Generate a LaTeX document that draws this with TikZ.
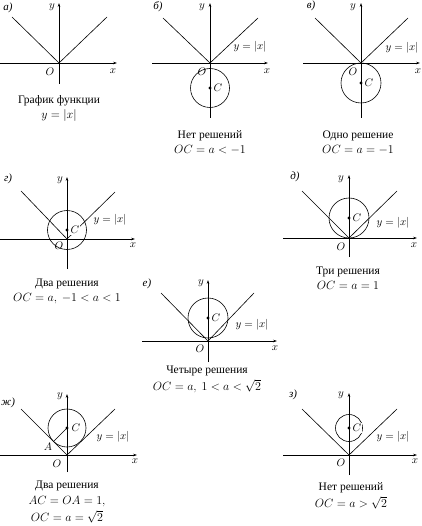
\documentclass[tikz,border=0pt]{standalone}
\usepackage{fontspec}
\setmainfont{Liberation Serif}
\usetikzlibrary{arrows.meta}

\tikzset{
  axis/.style={line width=0.6pt, -{Stealth[length=4pt,width=2.6pt]}},
  graph/.style={line width=0.6pt},
  lbl/.style={font=\fontsize{10.5}{10.5}\selectfont, inner sep=1pt},
  clbl/.style={lbl, fill=white},
  tag/.style={font=\itshape\fontsize{11}{11}\selectfont, inner sep=1pt},
  caption/.style={font=\fontsize{11.5}{15.5}\selectfont, align=center, inner sep=0pt},
}

\begin{document}
\begin{tikzpicture}[x=1pt, y=-1pt]
  \useasboundingbox (0,0) rectangle (421,526);

  % a) graph of y=|x|
  \begin{scope}[shift={(59,63)}]
    \coordinate (Oa) at (0,0);
    \coordinate (xa0) at (-59,0); \coordinate (xa1) at (58,0);
    \coordinate (ya0) at (0,21); \coordinate (ya1) at (0,-60);
    \coordinate (va0) at (-47,-46); \coordinate (va1) at (48,-46);
    \draw[axis] (xa0) -- (xa1);
    \draw[axis] (ya0) -- (ya1);
    \draw[graph] (va0) -- (Oa) -- (va1);
    \node[lbl] (ya) at (-7,-56) {$y$};
    \node[lbl] (xa) at (54,8) {$x$};
    \node[lbl] (oa) at (-9,9) {$O$};
    \node[tag] (ta) at (-51,-55) {а)};
  \end{scope}
  \node[caption] (capa) at (59,108.5) {График функции\\$y=|x|$};

  % b) no solutions
  \begin{scope}[shift={(210,63)}]
    \coordinate (Ob) at (0,0);
    \coordinate (Cb) at (0,25);
    \coordinate (xb0) at (-58,0); \coordinate (xb1) at (58,0);
    \coordinate (yb0) at (0,55); \coordinate (yb1) at (0,-60);
    \coordinate (vb0) at (-47,-45); \coordinate (vb1) at (48,-45);
    \draw[axis] (xb0) -- (xb1);
    \draw[axis] (yb0) -- (yb1);
    \draw[graph] (vb0) -- (Ob) -- (vb1);
    \draw[graph] (Cb) circle [radius=19.5];
    \fill (Cb) circle [radius=1.6];
    \node[lbl] (yb) at (-8,-56) {$y$};
    \node[lbl] (xb) at (57,8) {$x$};
    \node[lbl] (ob) at (-8,9) {$O$};
    \node[clbl] (cb) at (8,25) {$C$};
    \node[lbl] (fb) at (40,-16) {$y=|x|$};
    \node[tag] (tb) at (-52,-56) {б)};
  \end{scope}
  \node[caption] (capb) at (210,142.5) {Нет решений\\$OC=a<-1$};

  % c) one solution
  \begin{scope}[shift={(361,63)}]
    \coordinate (Oc) at (0,0);
    \coordinate (Cc) at (0,20);
    \coordinate (xc0) at (-58,0); \coordinate (xc1) at (59,0);
    \coordinate (yc0) at (0,55); \coordinate (yc1) at (0,-60);
    \coordinate (vc0) at (-46,-45); \coordinate (vc1) at (47,-45);
    \draw[axis] (xc0) -- (xc1);
    \draw[axis] (yc0) -- (yc1);
    \draw[graph] (vc0) -- (Oc) -- (vc1);
    \draw[graph] (Cc) circle [radius=20];
    \fill (Cc) circle [radius=1.6];
    \node[lbl] (yc) at (-8,-56) {$y$};
    \node[lbl] (xc) at (57,8) {$x$};
    \node[lbl] (oc) at (-8,9) {$O$};
    \node[clbl] (cc) at (8,20) {$C$};
    \node[lbl] (fc) at (41,-15) {$y=|x|$};
    \node[tag] (tc) at (-50,-57) {в)};
  \end{scope}
  \node[caption] (capc) at (358,142.5) {Одно решение\\$OC=a=-1$};

  % d) two solutions
  \begin{scope}[shift={(67,239)}]
    \coordinate (Od) at (0,0);
    \coordinate (Cd) at (0,-9);
    \coordinate (xd0) at (-67,0); \coordinate (xd1) at (68,0);
    \coordinate (yd0) at (0,30); \coordinate (yd1) at (0,-62);
    \coordinate (vd0) at (-46,-48); \coordinate (vd1) at (48,-47);
    \draw[axis] (xd0) -- (xd1);
    \draw[axis] (yd0) -- (yd1);
    \draw[graph] (vd0) -- (Od) -- (vd1);
    \draw[graph] (Cd) circle [radius=19.5];
    \fill (Cd) circle [radius=1.6];
    \node[lbl] (yd) at (-7,-59) {$y$};
    \node[lbl] (xd) at (66,6) {$x$};
    \node[lbl] (od) at (-8,7) {$O$};
    \node[clbl] (cd) at (8,-9) {$C$};
    \node[lbl] (fd) at (43,-19) {$y=|x|$};
    \node[tag] (td) at (-59,-60) {г)};
  \end{scope}
  \node[caption] (capd) at (67,291.5) {Два решения\\$OC=a,\ -1<a<1$};

  % e) three solutions
  \begin{scope}[shift={(349,238)}]
    \coordinate (Oe) at (0,0);
    \coordinate (Ce) at (0,-20);
    \coordinate (xe0) at (-66,0); \coordinate (xe1) at (68,0);
    \coordinate (ye0) at (0,19); \coordinate (ye1) at (0,-63);
    \coordinate (ve0) at (-47,-47); \coordinate (ve1) at (48,-47);
    \draw[axis] (xe0) -- (xe1);
    \draw[axis] (ye0) -- (ye1);
    \draw[graph] (ve0) -- (Oe) -- (ve1);
    \draw[graph] (Ce) circle [radius=20];
    \fill (Ce) circle [radius=1.6];
    \node[lbl] (ye) at (-8,-59) {$y$};
    \node[lbl] (xe) at (65,7) {$x$};
    \node[lbl] (oe) at (-8,9) {$O$};
    \node[clbl] (ce) at (8,-20) {$C$};
    \node[lbl] (fe) at (44,-15) {$y=|x|$};
    \node[tag] (te) at (-54,-61) {д)};
  \end{scope}
  \node[caption] (cape) at (348,278) {Три решения\\$OC=a=1$};

  % f) four solutions
  \begin{scope}[shift={(208,341)}]
    \coordinate (Of) at (0,0);
    \coordinate (Cf) at (0,-23);
    \coordinate (xf0) at (-66,0); \coordinate (xf1) at (69,0);
    \coordinate (yf0) at (0,21); \coordinate (yf1) at (0,-61);
    \coordinate (vf0) at (-47,-48); \coordinate (vf1) at (46,-48);
    \draw[axis] (xf0) -- (xf1);
    \draw[axis] (yf0) -- (yf1);
    \draw[graph] (vf0) -- (Of) -- (vf1);
    \draw[graph] (Cf) circle [radius=20];
    \fill (Cf) circle [radius=1.6];
    \node[lbl] (yf) at (-7,-58) {$y$};
    \node[lbl] (xf) at (67,7) {$x$};
    \node[lbl] (of) at (-8,8) {$O$};
    \node[clbl] (cf) at (8,-23) {$C$};
    \node[lbl] (ff) at (44,-16) {$y=|x|$};
    \node[tag] (tf) at (-61,-57) {е)};
  \end{scope}
  \node[caption] (capf) at (207,379) {Четыре решения\\[1.5pt]$OC=a,\ 1<a<\sqrt{2}$};

  % g) two solutions, tangent
  \begin{scope}[shift={(67,455)}]
    \coordinate (Og) at (0,0);
    \coordinate (Cg) at (0,-27);
    \coordinate (Ag) at (-13.5,-13.5);
    \coordinate (xg0) at (-67,0); \coordinate (xg1) at (70,0);
    \coordinate (yg0) at (0,17); \coordinate (yg1) at (0,-61);
    \coordinate (vg0) at (-46,-46); \coordinate (vg1) at (48,-46);
    \draw[axis] (xg0) -- (xg1);
    \draw[axis] (yg0) -- (yg1);
    \draw[graph] (vg0) -- (Og) -- (vg1);
    \draw[graph] (Cg) circle [radius=19];
    \draw[graph] (Ag) -- (Cg);
    \fill (Cg) circle [radius=1.6];
    \node[lbl] (yg) at (-7,-59) {$y$};
    \node[lbl] (xg) at (68,6) {$x$};
    \node[lbl] (og) at (-10,9) {$O$};
    \node[clbl] (cg) at (9,-27) {$C$};
    \node[lbl] (ag) at (-19,-8) {$A$};
    \node[lbl] (fg) at (46,-18) {$y=|x|$};
    \node[tag] (tg) at (-59,-52) {ж)};
  \end{scope}
  \node[caption] (capg) at (67,502) {Два решения\\$AC=OA=1,$\\[1.5pt]$OC=a=\sqrt{2}$};

  % h) no solutions
  \begin{scope}[shift={(349,455)}]
    \coordinate (Oh) at (0,0);
    \coordinate (Ch) at (0,-27);
    \coordinate (xh0) at (-66,0); \coordinate (xh1) at (68,0);
    \coordinate (yh0) at (0,20); \coordinate (yh1) at (0,-62);
    \coordinate (vh0) at (-47,-46); \coordinate (vh1) at (48,-46);
    \draw[axis] (xh0) -- (xh1);
    \draw[axis] (yh0) -- (yh1);
    \draw[graph] (vh0) -- (Oh) -- (vh1);
    \draw[graph] (Ch) circle [radius=13.5];
    \fill (Ch) circle [radius=1.6];
    \node[lbl] (yh) at (-8,-60) {$y$};
    \node[lbl] (xh) at (66,6) {$x$};
    \node[lbl] (oh) at (-8,8) {$O$};
    \node[clbl] (ch) at (8,-27) {$C$};
    \node[lbl] (fh) at (44,-18) {$y=|x|$};
    \node[tag] (th) at (-56,-60) {з)};
  \end{scope}
  \node[caption] (caph) at (351,495.5) {Нет решений\\[1.5pt]$OC=a>\sqrt{2}$};
\end{tikzpicture}
\end{document}
